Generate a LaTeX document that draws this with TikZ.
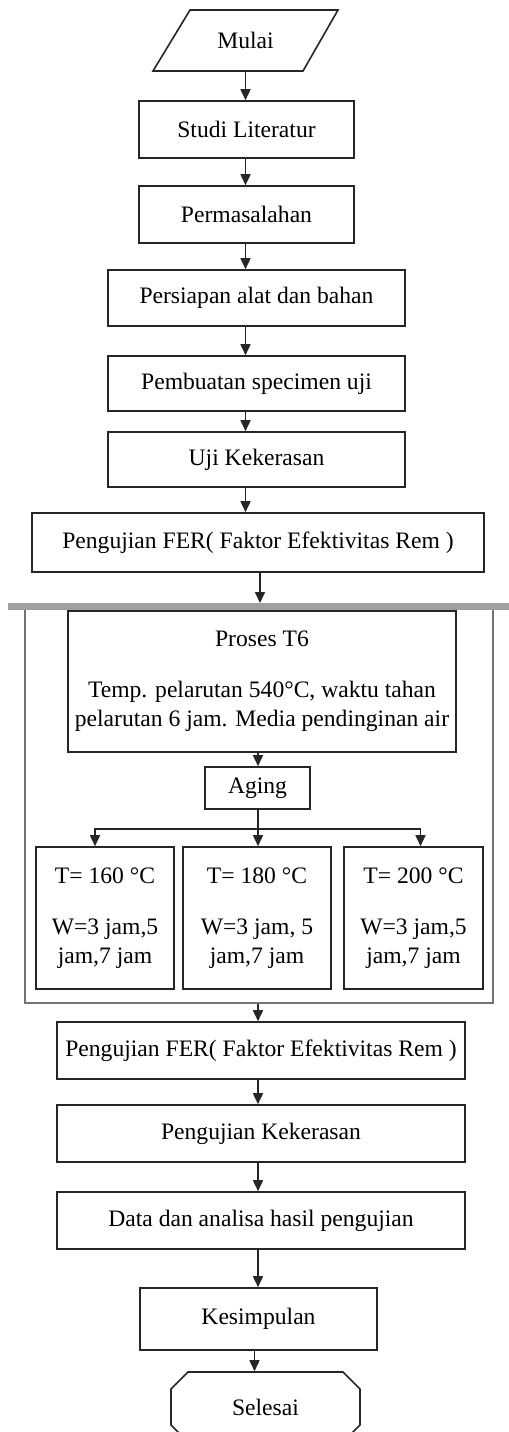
\documentclass[tikz,border=0pt]{standalone}
\usepackage{fontspec}
\setmainfont{Liberation Serif}
\usetikzlibrary{arrows.meta,shapes.misc}

\begin{document}
\begin{tikzpicture}[x=0.5pt, y=-0.5pt,
    every text node part/.style={align=center},
    every node/.style={font=\fontsize{11.8}{14.5}\selectfont, inner sep=0pt},
    box/.style 2 args={draw=black!85, line width=0.8pt,
      minimum width=#1*0.5pt, minimum height=#2*0.5pt},
    arr/.style={-{Triangle[length=5.5pt,width=5pt]}, line width=0.8pt, draw=black!85}]
    \useasboundingbox (0,0) rectangle (509,1432);

    % Boxes
    \node[minimum height=30.5pt] (mulai) at (245.5,40.5) {Mulai};
    \draw[line width=0.8pt, black!85] (153,71) -- (190,10) -- (338,10) -- (303,71) -- cycle;
    \node[box={215}{57}] (studi) at (246.5,129.5) {Studi Literatur};
    \node[box={215}{57}] (masalah) at (246.5,214.5) {Permasalahan};
    \node[box={297}{56}] (persiapan) at (256.5,298) {Persiapan alat dan bahan};
    \node[box={297}{55}] (pembuatan) at (256.5,383.5) {Pembuatan specimen uji};
    \node[box={297}{55}] (ujikeras) at (256.5,459.5) {Uji Kekerasan};
    \node[box={452}{59}] (fer) at (258,542.5) {Pengujian FER( Faktor Efektivitas Rem )};

    % T6 and aging group
    \node[box={468}{397}, draw=gray!90!black] (group) at (259,804.5) {};
    \draw[gray!75, line width=3.5pt] (8,606) -- (509,606);
    \coordinate (bar) at (260,603);
    \node[box={388}{141}] (t6) at (262,681.5)
      {Proses T6\\[11pt]Temp. pelarutan 540°C, waktu tahan\\pelarutan 6 jam. Media pendinginan air};
    \node[box={105}{42}] (aging) at (257.5,788) {Aging};
    \node[box={138}{142}] (t160) at (105,918) {T= 160 °C\\[11pt]W=3 jam,5\\jam,7 jam};
    \node[box={148}{142}] (t180) at (257,918) {T= 180 °C\\[11pt]W=3 jam, 5\\jam,7 jam};
    \node[box={139}{142}] (t200) at (413.5,918) {T= 200 °C\\[11pt]W=3 jam,5\\jam,7 jam};
    \coordinate (split) at (258,829);

    \node[box={408}{57}] (fer2) at (261,1050.5) {Pengujian FER( Faktor Efektivitas Rem )};
    \node[box={408}{57}] (kerasan) at (261,1133.5) {Pengujian Kekerasan};
    \node[box={408}{57}] (data) at (261,1220.5) {Data dan analisa hasil pengujian};
    \node[box={237}{62}] (kesimpulan) at (258.5,1319) {Kesimpulan};
    \node[box={189}{70}, chamfered rectangle, chamfered rectangle xsep=3.5pt,
      chamfered rectangle ysep=5pt] (selesai) at (265.5,1407) {Selesai};

    % Arcs
    \draw[arr] (mulai.south) -- (studi.north -| mulai.south);
    \draw[arr] (studi.south -| mulai.south) -- (masalah.north -| mulai.south);
    \draw[arr] (masalah.south -| mulai.south) -- (persiapan.north -| mulai.south);
    \draw[arr] (persiapan.south -| mulai.south) -- (pembuatan.north -| mulai.south);
    \draw[arr] (pembuatan.south -| mulai.south) -- (ujikeras.north -| mulai.south);
    \draw[arr] (ujikeras.south -| mulai.south) -- (fer.north -| mulai.south);
    \draw[arr] (fer.south -| bar) -- (bar);

    \draw[arr] (t6.south -| split) -- (aging.north -| split);
    \draw[line width=0.8pt, black!85] (aging.south -| split) -- (split);
    \draw[arr] (split) -| ([xshift=-5pt]t160.north);
    \draw[arr] (split) -- (t180.north -| split);
    \draw[arr] (split) -| ([xshift=3.5pt]t200.north);

    \draw[arr] (group.south -| split) -- (fer2.north -| split);
    \draw[arr] (fer2.south -| split) -- (kerasan.north -| split);
    \draw[arr] (kerasan.south -| split) -- (data.north -| split);
    \draw[arr] (data.south -| split) -- (kesimpulan.north -| split);
    \draw[arr] ([xshift=-2pt]kesimpulan.south) -- ([xshift=-2pt]kesimpulan.south |- selesai.north);
\end{tikzpicture}
\end{document}
